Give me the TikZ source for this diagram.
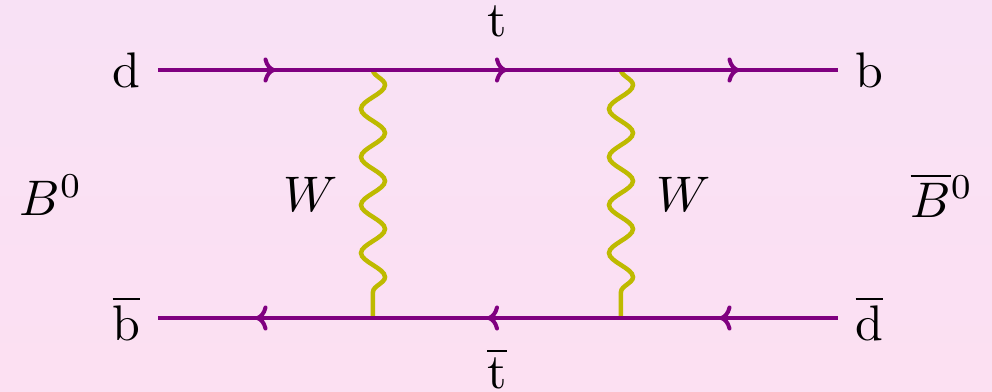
\documentclass[tikz,border=0pt]{standalone}
\usetikzlibrary{arrows.meta,decorations.markings,decorations.pathmorphing}
\definecolor{quark}{RGB}{128,0,128}
\definecolor{boson}{RGB}{190,186,0}
\definecolor{bgtop}{RGB}{248,225,245}
\definecolor{bgbot}{RGB}{252,224,242}

\begin{document}
\begin{tikzpicture}[x=0.2pt,y=-0.2pt,
  fermion/.style={quark,line width=0.8pt,postaction={decorate},
    decoration={markings,mark=at position 0.5 with
      {\pgftransformxshift{2pt}\arrow[quark,line width=0.8pt]{To[length=2.4pt,width=5pt]}}}},
  wboson/.style={boson,line width=0.9pt,decorate,
    decoration={snake,segment length=9.6pt,amplitude=2.4pt,post length=1pt}}]
  \useasboundingbox (0,0) rectangle (992,391);
  \shade[top color=bgtop,bottom color=bgbot] (0,0) rectangle (992,391);

  % line ends and vertices
  \coordinate (dl) at (158,70);
  \coordinate (v1) at (373,70);
  \coordinate (v2) at (621,70);
  \coordinate (br) at (838,70);
  \coordinate (bl) at (158,318);
  \coordinate (v3) at (373,318);
  \coordinate (v4) at (621,318);
  \coordinate (dr) at (838,318);

  % W exchange
  \draw[wboson] (v1) -- (v3);
  \draw[wboson] (v2) -- (v4);

  % quark lines
  \draw[fermion] (dl) -- (v1);
  \draw[fermion] (v1) -- (v2);
  \draw[fermion] (v2) -- (br);
  \draw[fermion] (dr) -- (v4);
  \draw[fermion] (v4) -- (v3);
  \draw[fermion] (v3) -- (bl);

  \node[left] (d) at (dl) {d};
  \node[right] (b) at (br) {b};
  \node[left] (bbar) at (bl) {$\overline{\mathrm{b}}$};
  \node[right] (dbar) at (dr) {$\overline{\mathrm{d}}$};
  \path (v1) -- node[above=3pt] (t) {t} (v2);
  \path (v3) -- node[below=5.7pt,inner sep=0pt] (tbar) {$\overline{\mathrm{t}}$} (v4);
  \path (v1) -- node[left=3.5pt] (w1) {$W$} (v3);
  \path (v2) -- node[right=3.5pt] (w2) {$W$} (v4);

  \node (B) at (51,195) {$B^0$};
  \node (Bbar) at (942,195) {$\overline{B}{}^0$};
\end{tikzpicture}
\end{document}
